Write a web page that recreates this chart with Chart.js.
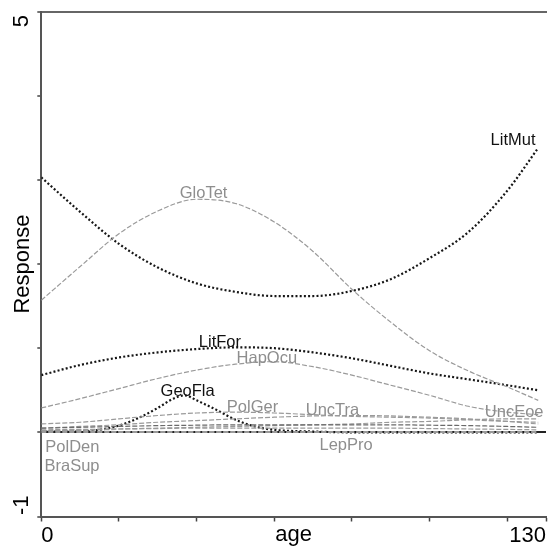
<!DOCTYPE html>
<html><head><meta charset="utf-8">
<script src="https://cdn.jsdelivr.net/npm/chart.js@4.4.1/dist/chart.umd.min.js"></script>
<style>html,body{margin:0;padding:0;background:#fff}#wrap{width:549px;height:552px}</style>
</head><body><div id="wrap"><canvas id="c" width="549" height="552"></canvas></div>
<script>
// ---- data ----
const ages   = [0,10,20,30,40,50,60,70,80,90,100,110,120,128];
const litMut = [3.03,2.62,2.24,1.96,1.77,1.67,1.62,1.62,1.68,1.82,2.07,2.38,2.87,3.38];
const gloTet = [1.57,1.97,2.36,2.63,2.77,2.72,2.50,2.15,1.70,1.31,0.97,0.73,0.54,0.38];
const litFor = [0.68,0.80,0.89,0.95,0.99,1.01,1.00,0.95,0.88,0.79,0.70,0.63,0.56,0.50];
const hapOcu = [0.29,0.40,0.52,0.64,0.74,0.81,0.84,0.78,0.68,0.56,0.44,0.31,0.24,0.21];
const polGer = [0.10,0.12,0.16,0.20,0.23,0.24,0.23,0.21,0.19,0.18,0.17,0.15,0.13,0.12];
const uncTra = [0.05,0.07,0.09,0.12,0.14,0.16,0.18,0.195,0.20,0.195,0.18,0.16,0.13,0.10];
const uncEoe = [0.02,0.03,0.04,0.05,0.06,0.07,0.08,0.09,0.10,0.12,0.13,0.15,0.16,0.16];
const other1 = [0.05,0.06,0.07,0.08,0.085,0.09,0.09,0.09,0.09,0.09,0.085,0.08,0.07,0.06];
const other2 = [0.03,0.035,0.04,0.045,0.05,0.05,0.05,0.05,0.05,0.05,0.045,0.04,0.035,0.03];
const polDen = [0.02,0.02,0.01,0.01,0.01,0.01,0.01,0.01,0.01,0.01,0.01,0.01,0.01,0.01];
const braSup = [0.01,0.01,0.01,0.005,0.005,0,0,0,0,0,0,0,0,0];
const lepPro = [0,0,0,0,0,0,0,0,0,0,0,0,0,0];
const geoFlaAges = [0,5,10,15,20,25,30,34,37,40,45,50,55,60,70,80,90,100,110,120,128];
const geoFla     = [0.01,0.01,0.01,0.03,0.08,0.17,0.29,0.40,0.44,0.38,0.27,0.15,0.07,0.03,0.01,0,0,0,0,0,0];

const xTickValues = [0,20,40,60,80,100,120,130];
const xTickText   = ['0','','','','','','','130'];
const yTickValues = [-1,0,1,2,3,4,5];
const yTickText   = ['-1','','','','','','5'];

// label names and the (age, response) spot where each sits
const labelNames = ['LitMut','GloTet','LitFor','HapOcu','GeoFla','PolGer','UncTra','UncEoe','PolDen','BraSup','LepPro'];
const labelAges  = [121.5, 41.8, 46.0, 58.1, 37.7, 54.4, 75.0, 121.8, 8.0, 7.9, 78.5];
const labelVals  = [3.47, 2.84, 1.07, 0.88, 0.49, 0.30, 0.26, 0.24, -0.18, -0.40, -0.16];
const labelDark  = [true,false,true,false,true,false,false,false,false,false,false];

// ---- styles ----
const DARK = '#161616', GREY = '#9a9a9a';
function pts(xs, ys){ return xs.map((a,i)=>({x:a,y:ys[i]})); }
function dotted(d){ return {data:d, borderColor:DARK, borderWidth:2.2, borderDash:[2,2.2], pointRadius:0, tension:0.4, cubicInterpolationMode:'monotone', fill:false}; }
function dashed(d, c){ return {data:d, borderColor:c||GREY, borderWidth:1.2, borderDash:[5,2], pointRadius:0, tension:0.4, cubicInterpolationMode:'monotone', fill:false}; }

const FONT = '"Liberation Sans", Arial, sans-serif';
Chart.defaults.font.family = FONT;

const labelPlugin = {
  id:'curveLabels',
  afterDatasetsDraw(chart){
    const {ctx, scales:{x,y}} = chart;
    ctx.save();
    ctx.font = '16.5px ' + FONT;
    ctx.textAlign = 'center'; ctx.textBaseline = 'middle';
    labelNames.forEach((n,i)=>{
      ctx.fillStyle = labelDark[i] ? '#111' : '#8e8e8e';
      ctx.fillText(n, x.getPixelForValue(labelAges[i]), y.getPixelForValue(labelVals[i]));
    });
    ctx.restore();
  }
};
const yLabelPlugin = {
  id:'yEdgeLabels',
  afterDraw(chart){
    const {ctx, scales:{y}} = chart;
    ctx.save();
    ctx.font = '22px ' + FONT;
    ctx.fillStyle = '#000';
    ctx.textBaseline = 'middle';
    yTickValues.forEach((v,i)=>{
      const t = yTickText[i]; if(!t) return;
      let py = y.getPixelForValue(v), align = 'center';
      if (v === y.max){ align='right'; py += 3.5; }
      else if (v === y.min){ align='left'; py -= 1.5; }
      ctx.save();
      ctx.translate(22, py);
      ctx.rotate(-Math.PI/2);
      ctx.textAlign = align;
      ctx.fillText(t, 0, 0);
      ctx.restore();
    });
    ctx.restore();
  }
};

new Chart(document.getElementById('c'), {
  type:'line',
  data:{ datasets:[
    dashed(pts(ages, lepPro)),
    dashed(pts(ages, braSup)),
    dashed(pts(ages, polDen)),
    dashed(pts(ages, other2)),
    dashed(pts(ages, other1), '#6a6a6a'),
    dashed(pts(ages, uncEoe)),
    dashed(pts(ages, uncTra)),
    dashed(pts(ages, polGer)),
    dashed(pts(ages, hapOcu)),
    dashed(pts(ages, gloTet)),
    dotted(pts(geoFlaAges, geoFla)),
    dotted(pts(ages, litFor)),
    dotted(pts(ages, litMut))
  ]},
  options:{
    responsive:false, animation:false,
    layout:{padding:{left:0, right:3, top:11.6, bottom:0}},
    plugins:{legend:{display:false}, tooltip:{enabled:false}},
    scales:{
      x:{
        type:'linear', position:'bottom', min:0, max:130,
        afterBuildTicks(s){ s.ticks = xTickValues.map(v=>({value:v})); },
        afterFit(s){ s.height = 35.5; },
        ticks:{ autoSkip:false, maxRotation:0, align:'inner', padding:1,
          color:'#000', font:{size:22},
          callback(v){ const i = xTickValues.indexOf(v); return i<0 ? '' : xTickText[i]; } },
        grid:{ drawOnChartArea:false, tickLength:5, tickColor:'#444', tickWidth:1.5 },
        border:{ color:'#555', width:2 },
        title:{ display:true, text:'age', color:'#000', font:{size:22}, padding:{top:0,bottom:4} }
      },
      x2:{
        type:'linear', position:'top', display:true,
        afterFit(s){ s.height = 0; },
        ticks:{display:false}, grid:{display:false},
        border:{ color:'#666', width:2 }
      },
      y:{
        type:'linear', position:'left', min:-1, max:5,
        afterBuildTicks(s){ s.ticks = yTickValues.map(v=>({value:v})); },
        afterFit(s){ s.width = 41.3; },
        ticks:{ display:false },
        grid:{ drawTicks:true, tickLength:4, tickColor:'#444', tickWidth:1.5,
          color(c){ return c.tick && c.tick.value===0 ? '#222' : 'rgba(0,0,0,0)'; },
          lineWidth(c){ return c.tick && c.tick.value===0 ? 2 : 0; } },
        border:{ color:'#555', width:2 },
        title:{ display:true, text:'Response', color:'#000', font:{size:22}, padding:{top:10,bottom:0} }
      }
    }
  },
  plugins:[labelPlugin, yLabelPlugin]
});
</script></body></html>
